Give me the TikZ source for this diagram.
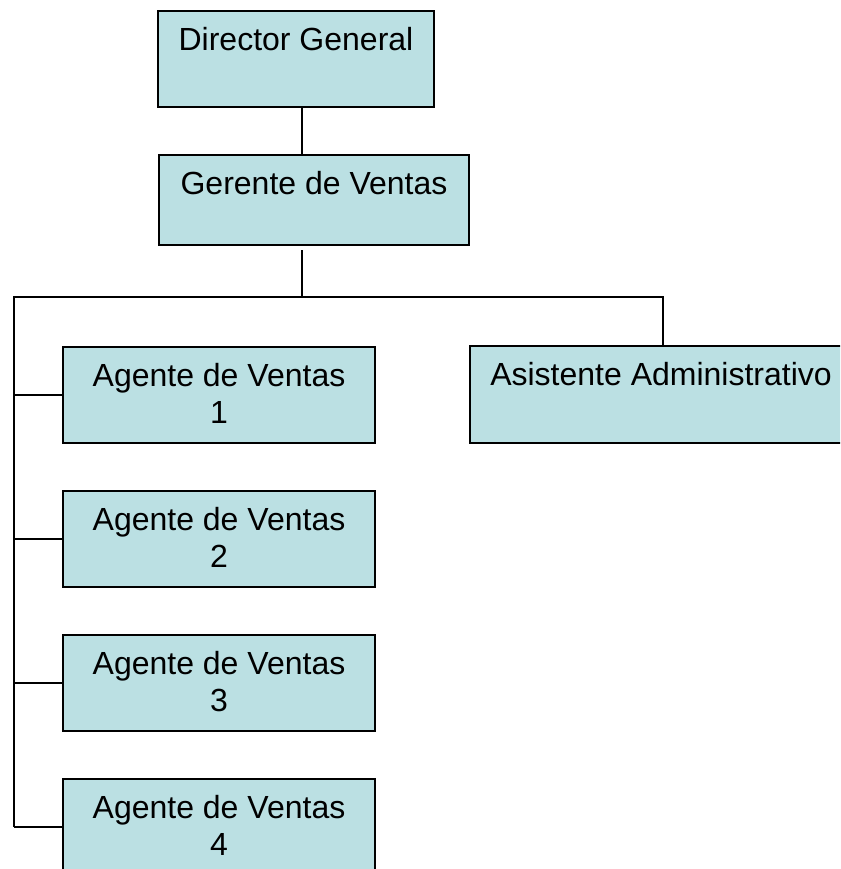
\documentclass[tikz,border=0pt]{standalone}
\usepackage{fontspec}
\setmainfont{Liberation Sans}
\usetikzlibrary{calc}
\definecolor{boxfill}{RGB}{187,224,227}
\begin{document}
\begin{tikzpicture}[x=1pt,y=-1pt,
  box/.style={draw=black, line width=2pt, fill=boxfill, rectangle, inner sep=0pt, anchor=north west},
  lbl/.style={font=\fontsize{32}{36.8}\selectfont, align=center, inner sep=0pt, anchor=north},
  conn/.style={draw=black, line width=2pt}]
\useasboundingbox (0,0) rectangle (840,869);
\clip (0,0) rectangle (840,869);

\node[box, minimum width=276pt, minimum height=96pt] (dg) at (157,10) {};
\node[box, minimum width=310pt, minimum height=90pt] (gv) at (158,154) {};
\node[box, minimum width=312pt, minimum height=96pt] (a1) at (62,346) {};
\node[box, minimum width=312pt, minimum height=96pt] (a2) at (62,490) {};
\node[box, minimum width=312pt, minimum height=96pt] (a3) at (62,634) {};
\node[box, minimum width=312pt, minimum height=96pt] (a4) at (62,778) {};
\node[box, minimum width=388pt, minimum height=97pt] (as) at (469,345) {};

\node[lbl] (dgt) at ($(dg.north)+(0,17)$) {Director General};
\node[lbl] (gvt) at ($(gv.north)+(0,17)$) {Gerente de Ventas};
\node[lbl] (a1t) at ($(a1.north)+(0,17)$) {Agente de Ventas\\1};
\node[lbl] (a2t) at ($(a2.north)+(0,17)$) {Agente de Ventas\\2};
\node[lbl] (a3t) at ($(a3.north)+(0,17)$) {Agente de Ventas\\3};
\node[lbl] (a4t) at ($(a4.north)+(0,17)$) {Agente de Ventas\\4};
\node[lbl] (ast) at ($(as.north)+(-3,17)$) {Asistente Administrativo};

\coordinate (bus) at (302,297);
\coordinate (busL) at (14,297);
\coordinate (busR) at (663,297);

\draw[conn] (dg.south -| bus) -- (gv.north -| bus);
\draw[conn] ([yshift=-4pt]gv.south -| bus) -- (bus);
\draw[conn] (busL |- a4.west) -- (busL) -- (busR) -- (as.north -| busR);
\foreach \n in {a1,a2,a3,a4} {
  \draw[conn] (busL |- \n.west) -- (\n.west);
}
\end{tikzpicture}
\end{document}
